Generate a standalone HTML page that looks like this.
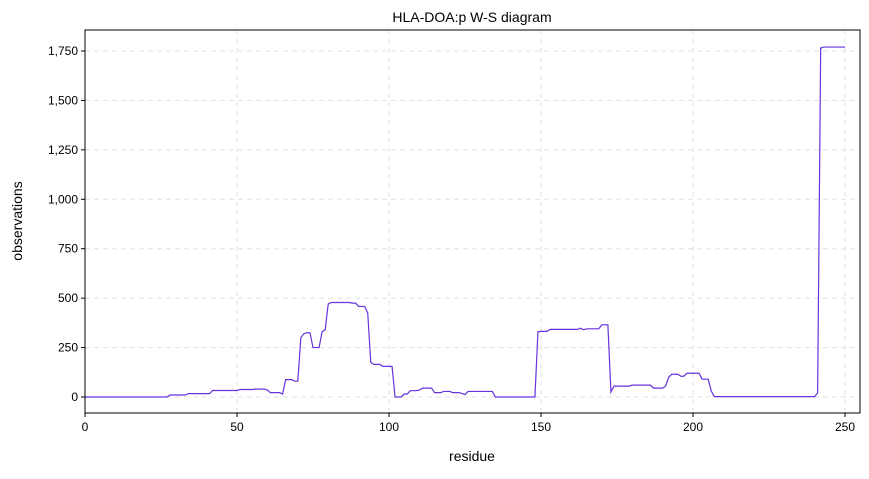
<!DOCTYPE html>
<html><head><meta charset="utf-8"><style>
body{margin:0;background:#fff;font-family:"Liberation Sans",sans-serif}
svg text{font-family:"Liberation Sans",sans-serif}
</style></head><body>
<svg id="c" width="869" height="474" xmlns="http://www.w3.org/2000/svg"></svg>
<script>
const residues = [];
for (let i = 0; i <= 250; i++) residues.push(i);
const observations = [
0,0,0,0,0,0,0,0,0,0,0,0,0,0,0,0,0,0,0,0,0,0,0,0,0,0,0,0,
10,10,10,10,10,10,
17,17,17,17,17,17,17,17,
33,33,33,33,33,33,33,33,33,
38,38,38,38,38,
40,40,40,40,
35,
22,22,22,22,
15,
88,88,88,
80,80,
300,320,325,325,250,250,250,330,340,470,
478,478,478,478,478,478,478,
475,475,
458,458,458,
425,
175,
165,165,165,
155,155,155,155,
0,0,0,
15,15,
32,32,32,
35,
45,45,45,45,
22,22,22,
28,28,28,
22,22,22,
18,
12,
28,28,28,28,28,28,28,28,28,
0,0,0,0,0,0,0,0,0,0,0,0,0,0,
330,
332,332,332,
342,342,342,342,342,342,342,342,342,342,
348,
340,
345,345,345,345,345,
365,365,365,
25,
55,55,55,55,55,55,
60,60,60,60,60,60,60,
45,45,45,45,
55,
100,
115,115,115,
105,105,
120,120,120,120,120,
90,90,90,
30,
2,2,2,2,2,2,2,2,2,2,2,2,2,2,2,2,2,2,2,2,2,2,2,2,2,2,2,2,2,2,2,2,2,2,
20,
1765,
1770,1770,1770,1770,1770,1770,1770,1770
];
const xTicks = [0,50,100,150,200,250];
const yTicks = [0,250,500,750,1000,1250,1500,1750];
const yTickLabels = ["0","250","500","750","1,000","1,250","1,500","1,750"];

const NS="http://www.w3.org/2000/svg";
const svg=document.getElementById('c');
const L=85,R=860,T=30,B=413;
const xs=v=>L+(v/250)*760;
const ys=v=>397-(v/1750)*346;
function mk(tag,attrs,parent){const e=document.createElementNS(NS,tag);for(const k in attrs)e.setAttribute(k,attrs[k]);(parent||svg).appendChild(e);return e;}

const grid=mk('g',{});


xTicks.forEach(v=>{mk('line',{x1:xs(v),x2:xs(v),y1:T,y2:B,stroke:'#e0e0e0','stroke-dasharray':'5,4','stroke-width':1},grid);});
yTicks.forEach(v=>{mk('line',{x1:L,x2:R,y1:ys(v),y2:ys(v),stroke:'#e0e0e0','stroke-dasharray':'5,4','stroke-width':1},grid);});

const pts=residues.map((r,i)=>xs(r).toFixed(2)+','+ys(observations[i]).toFixed(2)).join(' ');
const line=mk('polyline',{points:pts,fill:'none',stroke:'#6633dd','stroke-width':1.2});



const frame=mk('rect',{x:L,y:T,width:R-L,height:B-T,fill:'none',stroke:'#000','stroke-width':1});



const xa=mk('g',{});


xTicks.forEach(v=>{mk('line',{x1:xs(v),x2:xs(v),y1:B,y2:B+4,stroke:'#000'},xa);const t=mk('text',{x:xs(v),y:B+18,'text-anchor':'middle','font-size':12},xa);t.textContent=v;});
const ya=mk('g',{});


yTicks.forEach((v,i)=>{mk('line',{x1:L-4,x2:L,y1:ys(v),y2:ys(v),stroke:'#000'},ya);const t=mk('text',{x:L-7,y:ys(v)+4,'text-anchor':'end','font-size':12},ya);t.textContent=yTickLabels[i];});

const xt=mk('text',{x:472,y:461,'text-anchor':'middle','font-size':14});xt.textContent='residue';


const yt=mk('text',{x:22,y:221,'text-anchor':'middle','font-size':14,transform:'rotate(-90 22 221)'});yt.textContent='observations';


const tt=mk('text',{x:472,y:22,'text-anchor':'middle','font-size':14});tt.textContent='HLA-DOA:p W-S diagram';


</script>
</body></html>
